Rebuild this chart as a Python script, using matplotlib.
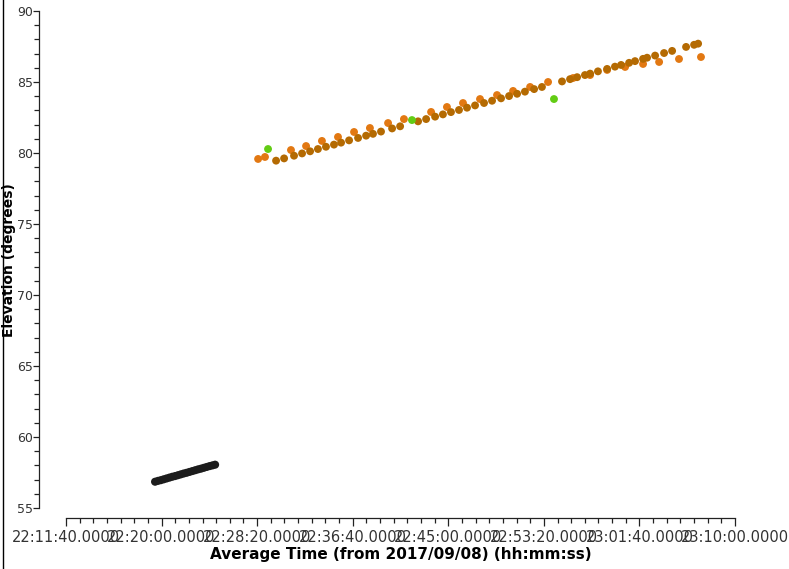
import matplotlib
matplotlib.use("Agg")
import matplotlib.pyplot as plt
from matplotlib.ticker import MultipleLocator, AutoMinorLocator, FuncFormatter
from matplotlib.lines import Line2D

# times are seconds after 22:00:00 on 2017/09/08
black_t = [1166, 1181, 1196, 1211, 1226, 1241, 1256, 1271, 1286, 1301, 1316,
           1331, 1346, 1361, 1376, 1391, 1406, 1421, 1436, 1451, 1466, 1480]
black_el = [56.85, 56.91, 56.96, 57.02, 57.08, 57.14, 57.20, 57.25, 57.31, 57.37, 57.43,
            57.48, 57.54, 57.60, 57.66, 57.72, 57.77, 57.83, 57.89, 57.95, 58.00, 58.05]

dark_t = [1799, 1841, 1893, 1935, 1977, 2018, 2060, 2102, 2139, 2181,
          2228, 2270, 2306, 2348, 2406, 2448, 2542, 2584, 2631, 2672,
          2714, 2756, 2798, 2840, 2887, 2929, 2976, 3018, 3060, 3101,
          3149, 3190, 3295, 3337, 3374, 3415, 3442, 3483, 3531, 3572,
          3604, 3646, 3677, 3719, 3740, 3782, 3829, 3871, 3944, 3986, 4007]
dark_el = [79.46, 79.62, 79.81, 79.97, 80.12, 80.28, 80.44, 80.59, 80.73, 80.89,
           81.06, 81.22, 81.35, 81.51, 81.73, 81.88, 82.23, 82.39, 82.56, 82.72,
           82.88, 83.03, 83.19, 83.35, 83.52, 83.68, 83.85, 84.01, 84.17, 84.32,
           84.50, 84.65, 85.04, 85.20, 85.34, 85.49, 85.59, 85.75, 85.92, 86.08,
           86.20, 86.35, 86.47, 86.63, 86.71, 86.86, 87.04, 87.19, 87.47, 87.62, 87.70]

light_t = [1705, 1741, 1877, 1956, 2039, 2123, 2207, 2290, 2385, 2468,
           2610, 2693, 2777, 2866, 2955, 3039, 3128, 3222, 3353, 3442,
           3531, 3625, 3719, 3803, 3907, 4022]
light_el = [79.58, 79.72, 80.21, 80.49, 80.85, 81.13, 81.48, 81.76, 82.11, 82.39,
            82.89, 83.24, 83.52, 83.80, 84.08, 84.37, 84.65, 85.00, 85.28, 85.49,
            85.85, 86.06, 86.27, 86.41, 86.62, 86.76]

green_t = [1757, 2510, 3253]
green_el = [80.28, 82.32, 83.80]


def fmt_time(v, pos):
    s = int(round(v))
    h = 22 + s // 3600
    m = (s % 3600) // 60
    sec = s % 60
    return "%02d:%02d:%02d.0000" % (h, m, sec)


fig = plt.figure(figsize=(7.89, 5.69), dpi=100)
ax = fig.add_axes([66 / 789, 1 - 508 / 569, (735 - 66) / 789, (508 - 11) / 569])

ax.scatter(black_t, black_el, s=34, color="#1c1c1c", edgecolors="none")
ax.scatter(light_t, light_el, s=32, color="#e27812", edgecolors="none")
ax.scatter(dark_t, dark_el, s=32, color="#b46a02", edgecolors="none")
ax.scatter(green_t, green_el, s=32, color="#62cc14", edgecolors="none")

ax.set_xlim(700, 4200)
ax.set_ylim(55, 90)

ax.spines["top"].set_visible(False)
ax.spines["right"].set_visible(False)
ax.spines["left"].set_position(("outward", 19.4))
ax.spines["bottom"].set_position(("outward", 7.2))
for sp in ["left", "bottom"]:
    ax.spines[sp].set_linewidth(0.9)
    ax.spines[sp].set_color("#222222")

ax.xaxis.set_major_locator(MultipleLocator(500, offset=200))
ax.xaxis.set_minor_locator(AutoMinorLocator(7))
ax.xaxis.set_major_formatter(FuncFormatter(fmt_time))
ax.yaxis.set_major_locator(MultipleLocator(5))
ax.yaxis.set_minor_locator(MultipleLocator(1))

ax.tick_params(axis="x", which="major", length=6, width=0.9, color="#222222",
               labelsize=10.5, labelcolor="#333333", pad=3)
ax.tick_params(axis="y", which="major", length=4, width=0.9, color="#222222",
               labelsize=9, labelcolor="#333333", pad=0.5)
ax.tick_params(axis="both", which="minor", length=3.5, width=0.9, color="#222222")

ax.set_xlabel("Average Time (from 2017/09/08) (hh:mm:ss)", fontsize=11,
              fontweight="bold", labelpad=1)
fig.text(9 / 789, 1 - 260 / 569, "Elevation (degrees)", fontsize=10,
         fontweight="bold", rotation=90, ha="center", va="center")

fig.add_artist(Line2D([3 / 789, 3 / 789], [0, 1], transform=fig.transFigure,
                      color="black", lw=1))

fig.savefig("out.png", dpi=100)
